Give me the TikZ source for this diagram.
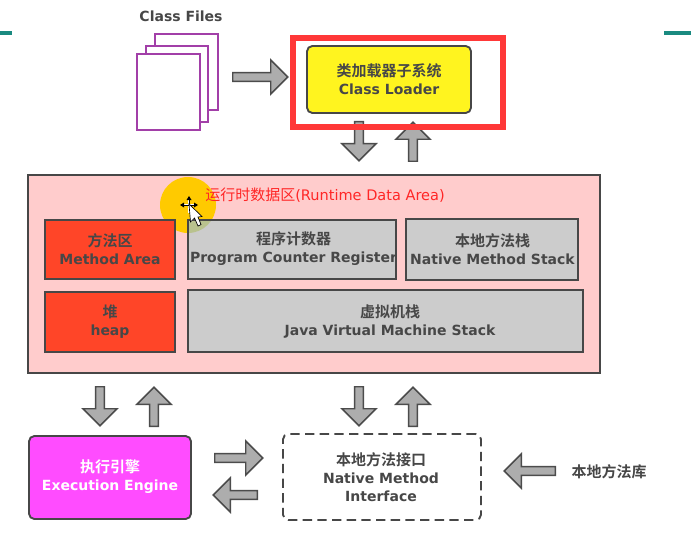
\documentclass[tikz,border=0pt]{standalone}
\usepackage{fontspec}
\setmainfont{DejaVu Sans}
\newfontfamily\cjkface{Noto Sans CJK SC}[BoldFont={* Bold}]
\newcommand{\cjk}{\fontsize{11.25}{13.5}\selectfont\cjkface}
\usetikzlibrary{shapes.arrows}
\definecolor{cred}{HTML}{FF4528}
\definecolor{cgray}{HTML}{CCCCCC}
\definecolor{cmag}{HTML}{FF4CFF}
\definecolor{cyel}{HTML}{FFF41F}
\definecolor{cpur}{HTML}{A23FA8}
\definecolor{cteal}{HTML}{1A8A80}
\definecolor{cgold}{HTML}{FFCA00}
\tikzset{
  x=0.75pt,y=-0.75pt,
  lbl/.style={align=center,font=\fontsize{10.5}{13.5}\selectfont\bfseries,text=#1,inner sep=0pt},
  lbl/.default={black!72},
  blockarrow/.style={single arrow,draw=black!70,fill=black!32,line width=1.1pt,inner sep=0pt,
    minimum width=25.5pt,single arrow head extend=8pt,text width=0pt,text height=4.5pt,text depth=0pt,
    minimum height=#1*0.75pt,anchor=tail},
  area/.style={draw=black!72,line width=1.4pt,fill=#1},
  page/.style={draw=cpur,line width=1.2pt,fill=white},
}
\newcommand{\boxnode}[7]{%
  \node[#2,minimum width=(#5-#3)*0.75pt,minimum height=(#6-#4)*0.75pt,inner sep=0pt,anchor=center] (#1) at ({(#3+#5)/2},{(#4+#6)/2}) {};}
\begin{document}
\begin{tikzpicture}
\useasboundingbox (0,0) rectangle (691,538);
\fill[white] (0,0) rectangle (691,538);
\fill[cteal] (0,31) rectangle (12,35);
\fill[cteal] (664,31) rectangle (691,35);
\node[lbl] (cf) at (181,16.5) {Class Files};
\boxnode{p3}{page}{155}{34}{218}{110}{}
\boxnode{p2}{page}{146}{46}{208}{122}{}
\boxnode{p1}{page}{137}{54}{200}{130}{}
\node[blockarrow=55] (a1) at (232,77) {};
\node[blockarrow=39,rotate=-90] (a2) at (359,121) {};
\node[blockarrow=39,rotate=90] (a3) at (413,162) {};
\boxnode{cl}{area=cyel,rounded corners=4pt}{307}{46}{471}{113}{}
\node[lbl] at (389,79.5) {\cjk 类加载器子系统\\Class Loader};
\boxnode{frame}{draw={red!78!white},line width=4.5pt}{293}{38}{503}{127}{}
\boxnode{rt}{area={red!20!white}}{28}{175}{600}{373}{}
\fill[cgold] (188,205) circle[radius=28*0.75pt];
\node[lbl,font=\fontsize{10.9}{13}\selectfont,text=red!85!white] (rtt) at (325,195) {{\cjk 运行时数据区}(Runtime Data Area)};
\boxnode{ma}{area=cred}{45}{220}{175}{279}{}
\boxnode{pc}{area=cgray}{188}{220}{396}{279}{}
\boxnode{ns}{area=cgray}{406}{219}{578}{280}{}
\boxnode{hp}{area=cred}{45}{292}{175}{352}{}
\boxnode{jv}{area=cgray}{188}{290}{583}{352}{}
\begin{scope}
\clip (189,221) rectangle (215,240);
\fill[cgold!70!green!80!black,opacity=.3] (188,205) circle[radius=28*0.75pt];
\end{scope}
\node[lbl] at (110,249.5) {\cjk 方法区\\Method Area};
\node[lbl] at (293.5,249) {\cjk 程序计数器\\Program Counter Register};
\node[lbl] at (492.5,249) {\cjk 本地方法栈\\Native Method Stack};
\node[lbl] at (110,321.5) {\cjk 堆\\heap};
\node[lbl] at (390,321.5) {\cjk 虚拟机栈\\Java Virtual Machine Stack};
% cursor
\draw[white,line width=2.2pt] (181,205) -- (197,205) (189,197) -- (189,213);
\fill[black] (180,205) -- (184,202.5) -- (184,207.5) -- cycle
             (198,205) -- (194,202.5) -- (194,207.5) -- cycle
             (189,196) -- (186.5,200) -- (191.5,200) -- cycle;
\draw[black,line width=.7pt] (184,205) -- (194,205) (189,200) -- (189,205);
\draw[fill=white,draw=black,line width=.5pt] (189,204) -- (190.5,222) -- (194.5,218) -- (198,226) -- (201,224.5) -- (198,217) -- (202,216.5) -- cycle;
\node[blockarrow=39,rotate=-90] (a4) at (100,386) {};
\node[blockarrow=39,rotate=90] (a5) at (154,427) {};
\node[blockarrow=39,rotate=-90] (a6) at (359,386) {};
\node[blockarrow=39,rotate=90] (a7) at (413,427) {};
\boxnode{ee}{area=cmag,rounded corners=4pt}{29}{436}{191}{519}{}
\node[lbl=white] at (110,477) {\cjk 执行引擎\\Execution Engine};
\node[blockarrow=48] (a8) at (214,458) {};
\node[blockarrow=44,rotate=180] (a9) at (258,495) {};
\boxnode{ni}{draw=black!72,line width=1.4pt,dash pattern=on 7pt off 4pt,rounded corners=4pt}{283}{434}{481}{520}{}
\node[lbl] at (381,477.5) {\cjk 本地方法接口\\Native Method\\Interface};
\node[blockarrow=51,rotate=180] (a10) at (556,471) {};
\node[lbl] (nl) at (609,472) {\cjk 本地方法库};
\end{tikzpicture}
\end{document}
